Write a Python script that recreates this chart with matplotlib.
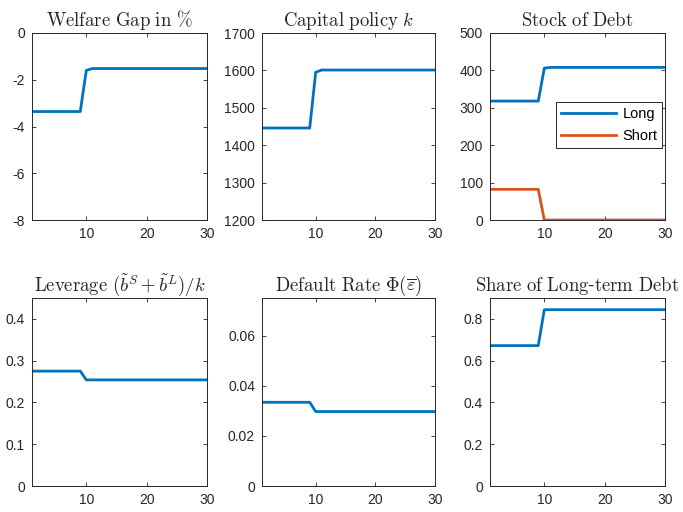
import numpy as np
import matplotlib
matplotlib.use('Agg')
import matplotlib.pyplot as plt

plt.rcParams['font.family'] = ['Liberation Sans', 'DejaVu Sans']
plt.rcParams['mathtext.fontset'] = 'cm'

# Horizon (periods)
periodos = np.arange(1, 31)

# Series (value before switch at t<=9, transition at t=10, steady state afterwards)
bienestar = [-3.36] * 9 + [-1.60] + [-1.52] * 20
capital = [1446] * 9 + [1595] + [1601] * 20
deuda_larga = [318] * 9 + [406] + [408] * 20
deuda_corta = [82] * 9 + [0] + [0] * 20
apalancamiento = [0.275] * 9 + [0.254] + [0.254] * 20
tasa_default = [0.0334] * 9 + [0.0297] + [0.0297] * 20
participacion_larga = [0.672] * 9 + [0.844] + [0.844] * 20

titulos = [r'$\mathrm{Welfare\ Gap\ in\ \%}$',
           r'$\mathrm{Capital\ policy}\ k$',
           r'$\mathrm{Stock\ of\ Debt}$',
           r'$\mathrm{Leverage}\ (\tilde{b}^S+\tilde{b}^L)/k$',
           r'$\mathrm{Default\ Rate}\ \Phi(\overline{\varepsilon})$',
           r'$\mathrm{Share\ of\ Long}$-$\mathrm{term\ Debt}$']

limites_y = [(-8, 0), (1200, 1700), (0, 500), (0, 0.45), (0, 0.075), (0, 0.9)]
ticks_y = [np.arange(-8, 1, 2), np.arange(1200, 1701, 100), np.arange(0, 501, 100),
           [0, 0.1, 0.2, 0.3, 0.4], [0, 0.02, 0.04, 0.06], [0, 0.2, 0.4, 0.6, 0.8]]

AZUL = '#0072BD'
NARANJA = '#D95319'
GRIS = '#262626'

W, H = 683, 512
# axes boxes in pixels: (left, top, right, bottom)
cajas = [(32, 33, 207, 220), (262, 33, 435, 220), (490, 33, 665, 220),
         (32, 298, 207, 486), (262, 298, 435, 486), (490, 298, 665, 486)]

fig = plt.figure(figsize=(W / 100, H / 100), dpi=100)
ejes = []
for (l, t, r, b) in cajas:
    ax = fig.add_axes([l / W, 1 - b / H, (r - l) / W, (b - t) / H])
    ejes.append(ax)

series = [[bienestar], [capital], [deuda_larga, deuda_corta],
          [apalancamiento], [tasa_default], [participacion_larga]]

for i, ax in enumerate(ejes):
    for j, s in enumerate(series[i]):
        ax.plot(periodos, s, color=AZUL if j == 0 else NARANJA, lw=2.0,
                label='Long' if j == 0 else 'Short')
    ax.set_xlim(1, 30)
    ax.set_xticks([10, 20, 30])
    ax.set_ylim(*limites_y[i])
    ax.set_yticks(ticks_y[i])
    ax.set_yticklabels([f'{v:g}' for v in ticks_y[i]])
    ax.set_title(titulos[i], fontsize=13.5, pad=5, color=GRIS)
    ax.tick_params(direction='in', top=True, right=True, length=3,
                   width=0.6, labelsize=10, colors=GRIS, pad=5)
    for sp in ax.spines.values():
        sp.set_linewidth(0.7)
        sp.set_color(GRIS)

leg = ejes[2].legend(loc='upper right', bbox_to_anchor=(0.985, 0.63),
                     fontsize=10.5, handlelength=3.8, fancybox=False,
                     edgecolor=GRIS, framealpha=1, borderpad=0.35,
                     labelspacing=0.55, handletextpad=0.4, borderaxespad=0)
leg.get_frame().set_linewidth(0.7)

fig.savefig('out.png', dpi=100)
